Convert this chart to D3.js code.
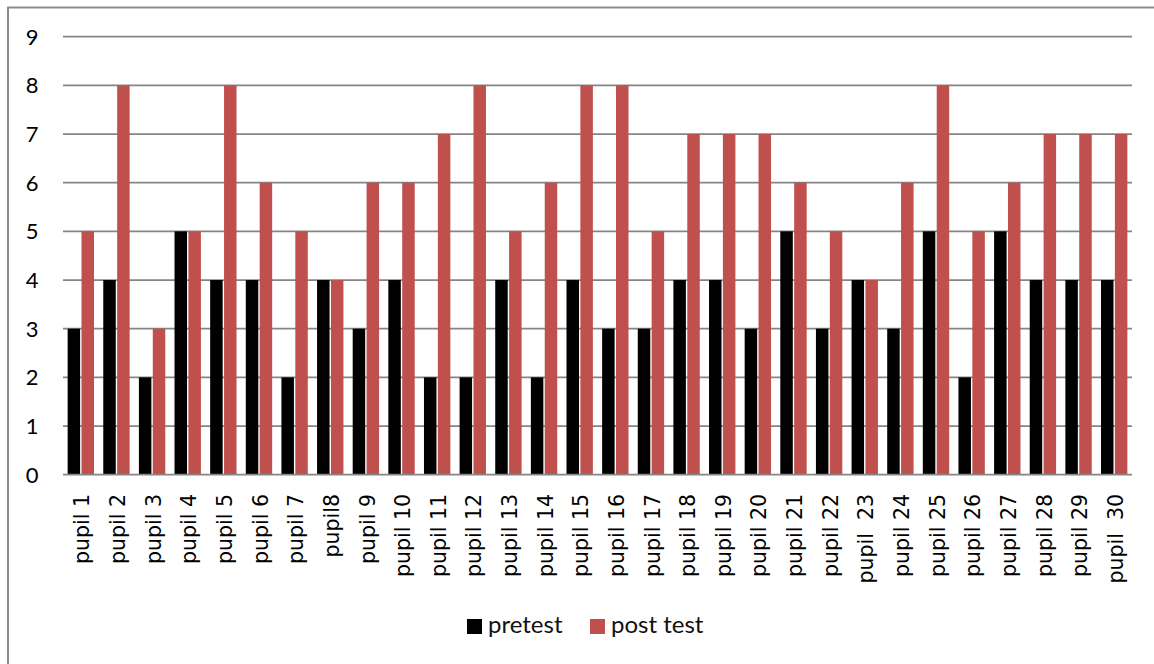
<!DOCTYPE html>
<html>
<head>
<meta charset="utf-8">
<script src="https://cdn.jsdelivr.net/npm/d3@7"></script>
<style>
  html, body { margin: 0; padding: 0; background: #fff; }
  svg { display: block; }
</style>
</head>
<body>
<svg id="chart" width="1154" height="664"></svg>
<script>
const categories = ["pupil 1","pupil 2","pupil 3","pupil 4","pupil 5","pupil 6","pupil 7","pupil8","pupil 9","pupil 10",
  "pupil 11","pupil 12","pupil 13","pupil 14","pupil 15","pupil 16","pupil 17","pupil 18","pupil 19","pupil 20",
  "pupil 21","pupil 22","pupil  23","pupil 24","pupil 25","pupil 26","pupil 27","pupil 28","pupil 29","pupil  30"];
const pretest  = [3,4,2,5,4,4,2,4,3,4, 2,2,4,2,4,3,3,4,4,3, 5,3,4,3,5,2,5,4,4,4];
const postTest = [5,8,3,5,8,6,5,4,6,6, 7,8,5,6,8,8,5,7,7,7, 6,5,4,6,8,5,6,7,7,7];
const seriesNames = ["pretest", "post test"];
const seriesColors = ["#000000", "#C0504D"];
const yTicks = [0,1,2,3,4,5,6,7,8,9];

const svg = d3.select("#chart");

// outer frame
svg.append("rect")
  .attr("x", 8).attr("y", 7.5).attr("width", 1170).attr("height", 700)
  .attr("fill", "none").attr("stroke", "#8c8c8c").attr("stroke-width", 2);

const plot = { left: 63, right: 1132, top: 36.7, bottom: 474.7 };

const y = d3.scaleLinear().domain([0, 9]).range([plot.bottom, plot.top]);
const x0 = d3.scaleBand().domain(categories).range([plot.left, plot.right])
  .paddingInner(0.26).paddingOuter(0.13);
const x1 = d3.scaleBand().domain(seriesNames).range([0, x0.bandwidth()]).paddingInner(0.1);

// gridlines
svg.append("g").selectAll("line").data(yTicks.filter(d => d > 0)).join("line")
  .attr("x1", plot.left).attr("x2", plot.right)
  .attr("y1", d => y(d)).attr("y2", d => y(d))
  .attr("stroke", "#858585").attr("stroke-width", 1.7);

// y labels
svg.append("g").selectAll("text").data(yTicks).join("text")
  .attr("x", 38.5).attr("y", d => y(d)).attr("dy", "0.36em")
  .attr("text-anchor", "end")
  .attr("font-family", "Lato, 'Open Sans', sans-serif").attr("font-size", 22)
  .attr("fill", "#000")
  .text(d => d);

// bars
const data = categories.map((c, i) => ({ cat: c, vals: [pretest[i], postTest[i]] }));
const groups = svg.append("g").selectAll("g").data(data).join("g")
  .attr("transform", d => `translate(${x0(d.cat)},0)`);
groups.selectAll("rect").data(d => d.vals.map((v, j) => ({ s: seriesNames[j], v, c: seriesColors[j] })))
  .join("rect")
  .attr("x", d => x1(d.s)).attr("width", x1.bandwidth())
  .attr("y", d => y(d.v)).attr("height", d => y(0) - y(d.v))
  .attr("fill", d => d.c);

// zero axis line
svg.append("line")
  .attr("x1", plot.left).attr("x2", plot.right)
  .attr("y1", y(0)).attr("y2", y(0))
  .attr("stroke", "#858585").attr("stroke-width", 1.7);

// x labels
svg.append("g").selectAll("text").data(categories).join("text")
  .attr("transform", d => `translate(${x0(d) + x0.bandwidth() / 2},494) rotate(-90)`)
  .attr("dy", "0.42em")
  .attr("text-anchor", "end")
  .attr("font-family", "'DejaVu Sans', sans-serif").attr("font-size", 20.5)
  .attr("fill", "#000")
  .style("white-space", "pre")
  .text(d => d);

// legend
const legendItems = [
  { name: seriesNames[0], color: seriesColors[0], x: 467 },
  { name: seriesNames[1], color: seriesColors[1], x: 590 }
];
const lg = svg.append("g");
lg.selectAll("rect").data(legendItems).join("rect")
  .attr("x", d => d.x).attr("y", 619).attr("width", 15).attr("height", 15)
  .attr("fill", d => d.color);
lg.selectAll("text").data(legendItems).join("text")
  .attr("x", d => d.x + 21).attr("y", 633)
  .attr("font-family", "Lato, 'Open Sans', sans-serif").attr("font-size", 24)
  .attr("fill", "#111")
  .text(d => d.name);
</script>
</body>
</html>
